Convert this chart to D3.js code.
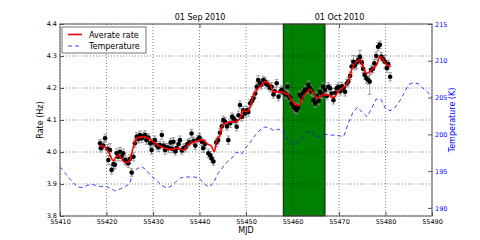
<!DOCTYPE html>
<html>
<head>
<meta charset="utf-8">
<script src="https://cdn.jsdelivr.net/npm/d3@7"></script>
<style>
  body { margin: 0; background: #fff; }
  svg { display: block; font-family: "DejaVu Sans", sans-serif; }
</style>
</head>
<body>
<div id="chart"></div>
<script>
// rate measurements: [MJD, rate (Hz), error]
var rates = [
  [55418.6,4.027,0.012],[55418.8,4.012,0.012],[55419.3,4.020,0.013],[55419.7,4.043,0.013],
  [55420.2,4.010,0.013],[55420.4,3.975,0.014],[55420.75,4.006,0.02],[55421.1,3.944,0.013],
  [55421.5,3.962,0.013],[55421.8,3.960,0.013],[55422.2,3.996,0.014],[55422.5,3.985,0.013],
  [55422.9,4.001,0.013],[55423.2,3.985,0.013],[55423.6,3.996,0.013],[55424.0,3.975,0.014],
  [55424.3,3.970,0.013],[55424.7,3.965,0.013],[55425.0,3.978,0.013],[55425.4,3.936,0.012],
  [55425.8,3.985,0.013],[55426.1,4.027,0.013],[55426.5,4.048,0.013],[55426.9,4.040,0.012],
  [55427.2,4.053,0.013],[55427.6,4.043,0.013],[55428.0,4.050,0.012],[55428.3,4.053,0.013],
  [55428.6,4.037,0.013],[55429.0,4.045,0.012],[55429.4,4.027,0.013],[55429.7,4.006,0.013],
  [55430.0,4.030,0.012],[55430.4,4.037,0.013],[55430.8,4.020,0.012],[55431.2,4.015,0.013],
  [55431.5,4.022,0.012],[55431.9,4.053,0.013],[55432.3,4.020,0.012],[55432.6,4.006,0.013],
  [55433.0,4.015,0.012],[55433.4,4.012,0.013],[55433.8,4.030,0.012],[55434.1,4.010,0.013],
  [55434.4,4.032,0.013],[55434.8,4.002,0.012],[55435.1,4.012,0.013],[55435.5,4.025,0.012],
  [55435.8,4.037,0.013],[55436.2,4.005,0.012],[55436.6,4.012,0.013],[55437.0,4.015,0.012],
  [55437.4,4.025,0.013],[55437.8,4.030,0.012],[55438.3,4.058,0.013],[55438.7,4.035,0.012],
  [55439.1,4.020,0.013],[55439.6,4.040,0.012],[55440.0,4.045,0.013],[55440.5,4.032,0.012],
  [55440.8,4.012,0.013],[55441.2,4.025,0.012],[55441.9,3.996,0.013],[55442.3,3.990,0.012],
  [55442.6,3.980,0.013],[55443.0,3.970,0.012],[55443.6,4.030,0.013],[55444.0,4.037,0.012],
  [55444.4,4.060,0.013],[55444.8,4.080,0.013],[55445.1,4.100,0.012],[55445.5,4.095,0.013],
  [55445.9,4.080,0.012],[55446.2,4.037,0.013],[55446.6,4.090,0.013],[55447.0,4.110,0.012],
  [55447.3,4.105,0.013],[55447.7,4.098,0.012],[55448.0,4.079,0.013],[55448.4,4.115,0.013],
  [55448.7,4.147,0.012],[55449.1,4.110,0.013],[55449.4,4.130,0.012],[55449.8,4.120,0.013],
  [55450.2,4.130,0.012],[55450.5,4.125,0.013],[55450.9,4.152,0.012],[55451.3,4.160,0.013],
  [55451.6,4.168,0.012],[55452.0,4.183,0.013],[55452.3,4.204,0.012],[55452.6,4.225,0.013],
  [55453.0,4.215,0.012],[55453.3,4.210,0.013],[55453.7,4.225,0.012],[55454.1,4.220,0.013],
  [55454.4,4.212,0.012],[55454.8,4.209,0.013],[55455.2,4.200,0.012],[55455.5,4.204,0.013],
  [55455.9,4.180,0.012],[55456.2,4.190,0.013],[55456.6,4.215,0.012],[55457.0,4.173,0.013],
  [55457.4,4.190,0.012],[55457.7,4.194,0.013],[55458.1,4.186,0.012],[55458.5,4.180,0.013],
  [55458.9,4.204,0.012],[55459.2,4.175,0.013],[55459.5,4.168,0.012],[55459.8,4.152,0.013],
  [55460.2,4.142,0.012],[55460.5,4.137,0.013],[55460.9,4.131,0.012],[55461.2,4.140,0.013],
  [55461.6,4.178,0.012],[55462.0,4.170,0.013],[55462.3,4.185,0.012],[55462.7,4.194,0.013],
  [55463.1,4.195,0.012],[55463.4,4.209,0.013],[55463.8,4.198,0.012],[55464.1,4.190,0.013],
  [55464.5,4.162,0.012],[55464.9,4.152,0.013],[55465.2,4.175,0.012],[55465.6,4.160,0.013],
  [55465.9,4.188,0.012],[55466.3,4.180,0.013],[55466.6,4.204,0.012],[55467.0,4.194,0.013],
  [55467.4,4.175,0.012],[55467.7,4.204,0.013],[55468.1,4.199,0.012],[55468.4,4.183,0.013],
  [55468.8,4.162,0.012],[55469.2,4.185,0.013],[55469.5,4.199,0.012],[55469.9,4.203,0.013],
  [55470.3,4.190,0.012],[55470.6,4.205,0.013],[55471.0,4.200,0.012],[55471.3,4.188,0.013],
  [55471.7,4.215,0.012],[55472.0,4.220,0.013],[55472.4,4.238,0.012],[55472.7,4.267,0.02],
  [55473.1,4.282,0.02],[55473.4,4.270,0.013],[55473.8,4.280,0.02],[55474.2,4.288,0.013],
  [55474.5,4.298,0.02],[55474.9,4.280,0.013],[55475.2,4.260,0.012],[55475.5,4.241,0.013],
  [55475.9,4.230,0.015],[55476.3,4.225,0.013],[55476.6,4.220,0.04],[55476.9,4.256,0.013],
  [55477.3,4.260,0.012],[55477.6,4.277,0.013],[55478.0,4.300,0.012],[55478.4,4.329,0.013],
  [55478.8,4.335,0.012],[55479.1,4.298,0.013],[55479.5,4.290,0.012],[55479.9,4.282,0.02],
  [55480.3,4.262,0.013],[55480.6,4.275,0.012],[55481.0,4.235,0.013]
];

// running average rate: [MJD, rate]
var avgRate = [
  [55418.5,4.020],[55419.5,4.017],[55420.5,3.998],[55421.5,3.972],[55422.2,3.988],
  [55423.0,3.985],[55423.7,3.970],[55424.4,3.967],[55425.0,3.975],[55425.8,4.017],
  [55426.5,4.043],[55428.0,4.048],[55429.0,4.043],[55430.0,4.032],[55431.0,4.022],
  [55432.5,4.012],[55433.7,4.008],[55434.7,4.010],[55435.3,4.012],[55436.5,4.006],
  [55437.6,4.022],[55439.0,4.032],[55440.8,4.038],[55441.5,4.027],[55442.6,4.017],
  [55443.2,4.001],[55443.7,4.038],[55444.4,4.053],[55444.8,4.079],[55445.5,4.090],
  [55447.0,4.095],[55448.0,4.095],[55448.7,4.105],[55449.4,4.130],[55450.2,4.126],
  [55450.9,4.140],[55451.6,4.178],[55452.3,4.194],[55453.4,4.209],[55454.1,4.220],
  [55455.2,4.210],[55455.9,4.188],[55456.8,4.188],[55457.7,4.188],[55458.4,4.183],
  [55459.1,4.178],[55459.8,4.162],[55460.5,4.150],[55461.4,4.145],[55462.3,4.173],
  [55463.1,4.186],[55463.8,4.196],[55464.5,4.183],[55465.5,4.168],[55466.6,4.180],
  [55467.7,4.178],[55468.8,4.170],[55469.9,4.190],[55470.9,4.201],[55472.0,4.220],
  [55472.7,4.256],[55473.8,4.282],[55474.5,4.288],[55475.2,4.267],[55475.9,4.246],
  [55476.6,4.251],[55477.4,4.262],[55478.1,4.272],[55478.8,4.298],[55479.5,4.288],
  [55480.3,4.272],[55481.2,4.267]
];

// temperature: [MJD, K]
var temperature = [
  [55410,195.6],[55411,194.8],[55412,194.0],[55413,193.3],[55414,192.8],[55415,192.8],
  [55416,193.1],[55417,193.2],[55418,193.0],[55419,192.9],[55420,192.9],[55421,192.6],
  [55422,192.3],[55423,192.6],[55424,192.9],[55425,193.3],[55425.5,194.5],[55426.5,195.3],
  [55427.5,195.6],[55428.5,195.2],[55429.5,194.4],[55431,193.6],[55432,193.0],[55433,192.7],
  [55434,193.0],[55435,193.6],[55436,194.1],[55437,194.2],[55438,194.2],[55439,194.2],
  [55440,194.0],[55441,193.3],[55442,192.8],[55443,193.4],[55444,194.7],[55445,195.5],
  [55446,196.3],[55447,196.8],[55448,197.6],[55449,197.3],[55450,198.2],[55451,199.0],
  [55452,199.9],[55453,200.6],[55454,201.0],[55455,200.9],[55456,200.5],[55457,200.7],
  [55458,200.4],[55459,199.3],[55460,198.6],[55461,198.8],[55462,199.6],[55463,200.3],
  [55464,200.4],[55465,199.8],[55466,199.6],[55467,200.0],[55468,199.9],[55469,199.9],
  [55470,199.8],[55471,199.7],[55472,201.5],[55473,203.0],[55474,203.7],[55475,203.0],
  [55476,202.4],[55477,203.5],[55478,204.8],[55479,204.8],[55480,203.5],[55481,203.2],
  [55482,203.6],[55483,204.5],[55484,205.6],[55485,206.8],[55486,207.0],[55487,206.9],
  [55488,206.3],[55489,205.8],[55490,205.0]
];

var band = [55458, 55467];
var mjdTicks = [55410, 55420, 55430, 55440, 55450, 55460, 55470, 55480, 55490];
var rateTicks = [3.8, 3.9, 4.0, 4.1, 4.2, 4.3, 4.4];
var tempTicks = [190, 195, 200, 205, 210, 215];
var dateTicks = [55440, 55470];
var dateLabels = ["01 Sep 2010", "01 Oct 2010"];
var legendNames = ["Averate rate", "Temperature"];

var W = 480, H = 240;
var L = 60, R = 432, T = 24, B = 216;

var svg = d3.select("#chart").append("svg")
            .attr("width", W)
            .attr("height", H);

var x = d3.scaleLinear().domain([55410, 55490]).range([L, R]);
var y = d3.scaleLinear().domain([3.8, 4.4]).range([B, T]);
var yT = d3.scaleLinear().domain([188.9, 215]).range([B, T]);

// green band
svg.append("rect")
   .attr("x", x(band[0]))
   .attr("y", T)
   .attr("width", x(band[1]) - x(band[0]))
   .attr("height", B - T)
   .attr("fill", "#008000")
   .attr("stroke", "#000")
   .attr("stroke-width", 0.8);

// grid
var grid = svg.append("g").attr("stroke", "#000").attr("stroke-width", 0.5).attr("stroke-dasharray", "1,2");
mjdTicks.forEach(function(t){
  grid.append("line").attr("x1", x(t)).attr("x2", x(t)).attr("y1", T).attr("y2", B);
});
rateTicks.forEach(function(t){
  grid.append("line").attr("x1", L).attr("x2", R).attr("y1", y(t)).attr("y2", y(t));
});

// temperature dashed line
svg.append("path")
   .datum(temperature)
   .attr("fill", "none")
   .attr("stroke", "#0000ff")
   .attr("stroke-opacity", 0.75)
   .attr("stroke-width", 1)
   .attr("stroke-dasharray", "4,3")
   .attr("d", d3.line().x(function(d){ return x(d[0]); }).y(function(d){ return yT(d[1]); }));

// error bars
var eb = svg.append("g").attr("stroke", "#888").attr("stroke-width", 0.8);
rates.forEach(function(d){
  var cx = x(d[0]);
  eb.append("line").attr("x1", cx).attr("x2", cx).attr("y1", y(d[1] - d[2])).attr("y2", y(d[1] + d[2]));
  eb.append("line").attr("x1", cx - 1.8).attr("x2", cx + 1.8).attr("y1", y(d[1] - d[2])).attr("y2", y(d[1] - d[2]));
  eb.append("line").attr("x1", cx - 1.8).attr("x2", cx + 1.8).attr("y1", y(d[1] + d[2])).attr("y2", y(d[1] + d[2]));
});

svg.append("g").selectAll("circle")
   .data(rates)
   .enter().append("circle")
   .attr("cx", function(d){ return x(d[0]); })
   .attr("cy", function(d){ return y(d[1]); })
   .attr("r", 2.3)
   .attr("fill", "#000");

// average rate
svg.append("path")
   .datum(avgRate)
   .attr("fill", "none")
   .attr("stroke", "#ff0000")
   .attr("stroke-width", 1.6)
   .attr("d", d3.line().curve(d3.curveMonotoneX).x(function(d){ return x(d[0]); }).y(function(d){ return y(d[1]); }));

// frame
svg.append("rect")
   .attr("x", L).attr("y", T)
   .attr("width", R - L).attr("height", B - T)
   .attr("fill", "none")
   .attr("stroke", "#555")
   .attr("stroke-width", 1);

// axes
function styleAxis(g, color){
  g.select(".domain").remove();
  g.selectAll("line").attr("stroke", "#555");
  g.selectAll("text").attr("font-size", "6.5px").attr("font-family", "DejaVu Sans").attr("fill", color);
}

svg.append("g")
   .attr("transform", "translate(0," + B + ")")
   .call(d3.axisBottom(x).tickValues(mjdTicks).tickFormat(d3.format("d")).tickSizeInner(-4).tickSizeOuter(0).tickPadding(3))
   .call(styleAxis, "#000");

var rateAx = svg.append("g")
   .attr("transform", "translate(" + L + ",0)")
   .call(d3.axisLeft(y).tickValues(rateTicks).tickFormat(d3.format(".1f")).tickSizeInner(-4).tickSizeOuter(0).tickPadding(3));
rateAx.call(styleAxis, "#000");
rateAx.selectAll("text").attr("dy", "0.25em");

svg.append("g")
   .attr("transform", "translate(" + R + ",0)")
   .call(d3.axisRight(yT).tickValues(tempTicks).tickFormat(d3.format("d")).tickSizeInner(-4).tickSizeOuter(0).tickPadding(3))
   .call(styleAxis, "#0000ff");

var dateAx = svg.append("g")
   .attr("transform", "translate(0," + T + ")")
   .call(d3.axisTop(x).tickValues(dateTicks).tickFormat(function(d, i){ return dateLabels[i]; }).tickSizeInner(-4).tickSizeOuter(0).tickPadding(4));
dateAx.call(styleAxis, "#000");
dateAx.selectAll("text").attr("font-size", "8px");

// labels
svg.append("text")
   .attr("x", (L + R) / 2).attr("y", 233)
   .attr("text-anchor", "middle")
   .attr("font-size", "8px")
   .text("MJD");

svg.append("text")
   .attr("transform", "translate(43," + ((T + B) / 2) + ") rotate(-90)")
   .attr("text-anchor", "middle")
   .attr("font-size", "8px")
   .text("Rate (Hz)");

svg.append("text")
   .attr("transform", "translate(455," + ((T + B) / 2) + ") rotate(-90)")
   .attr("text-anchor", "middle")
   .attr("font-size", "8px")
   .attr("fill", "#0000ff")
   .text("Temperature (K)");

// legend
var lg = svg.append("g");
lg.append("rect")
  .attr("x", 62).attr("y", 27)
  .attr("width", 84).attr("height", 26)
  .attr("fill", "#fff")
  .attr("stroke", "#555")
  .attr("stroke-width", 0.8);
lg.append("line").attr("x1", 68).attr("x2", 82).attr("y1", 34.5).attr("y2", 34.5)
  .attr("stroke", "#ff0000").attr("stroke-width", 1.6);
lg.append("line").attr("x1", 68).attr("x2", 82).attr("y1", 46).attr("y2", 46)
  .attr("stroke", "#0000ff").attr("stroke-opacity", 0.75).attr("stroke-dasharray", "4,3");
legendNames.forEach(function(n, i){
  lg.append("text")
    .attr("x", 89).attr("y", 37.5 + i * 11.5)
    .attr("font-size", "8px")
    .text(n);
});
</script>
</body>
</html>
